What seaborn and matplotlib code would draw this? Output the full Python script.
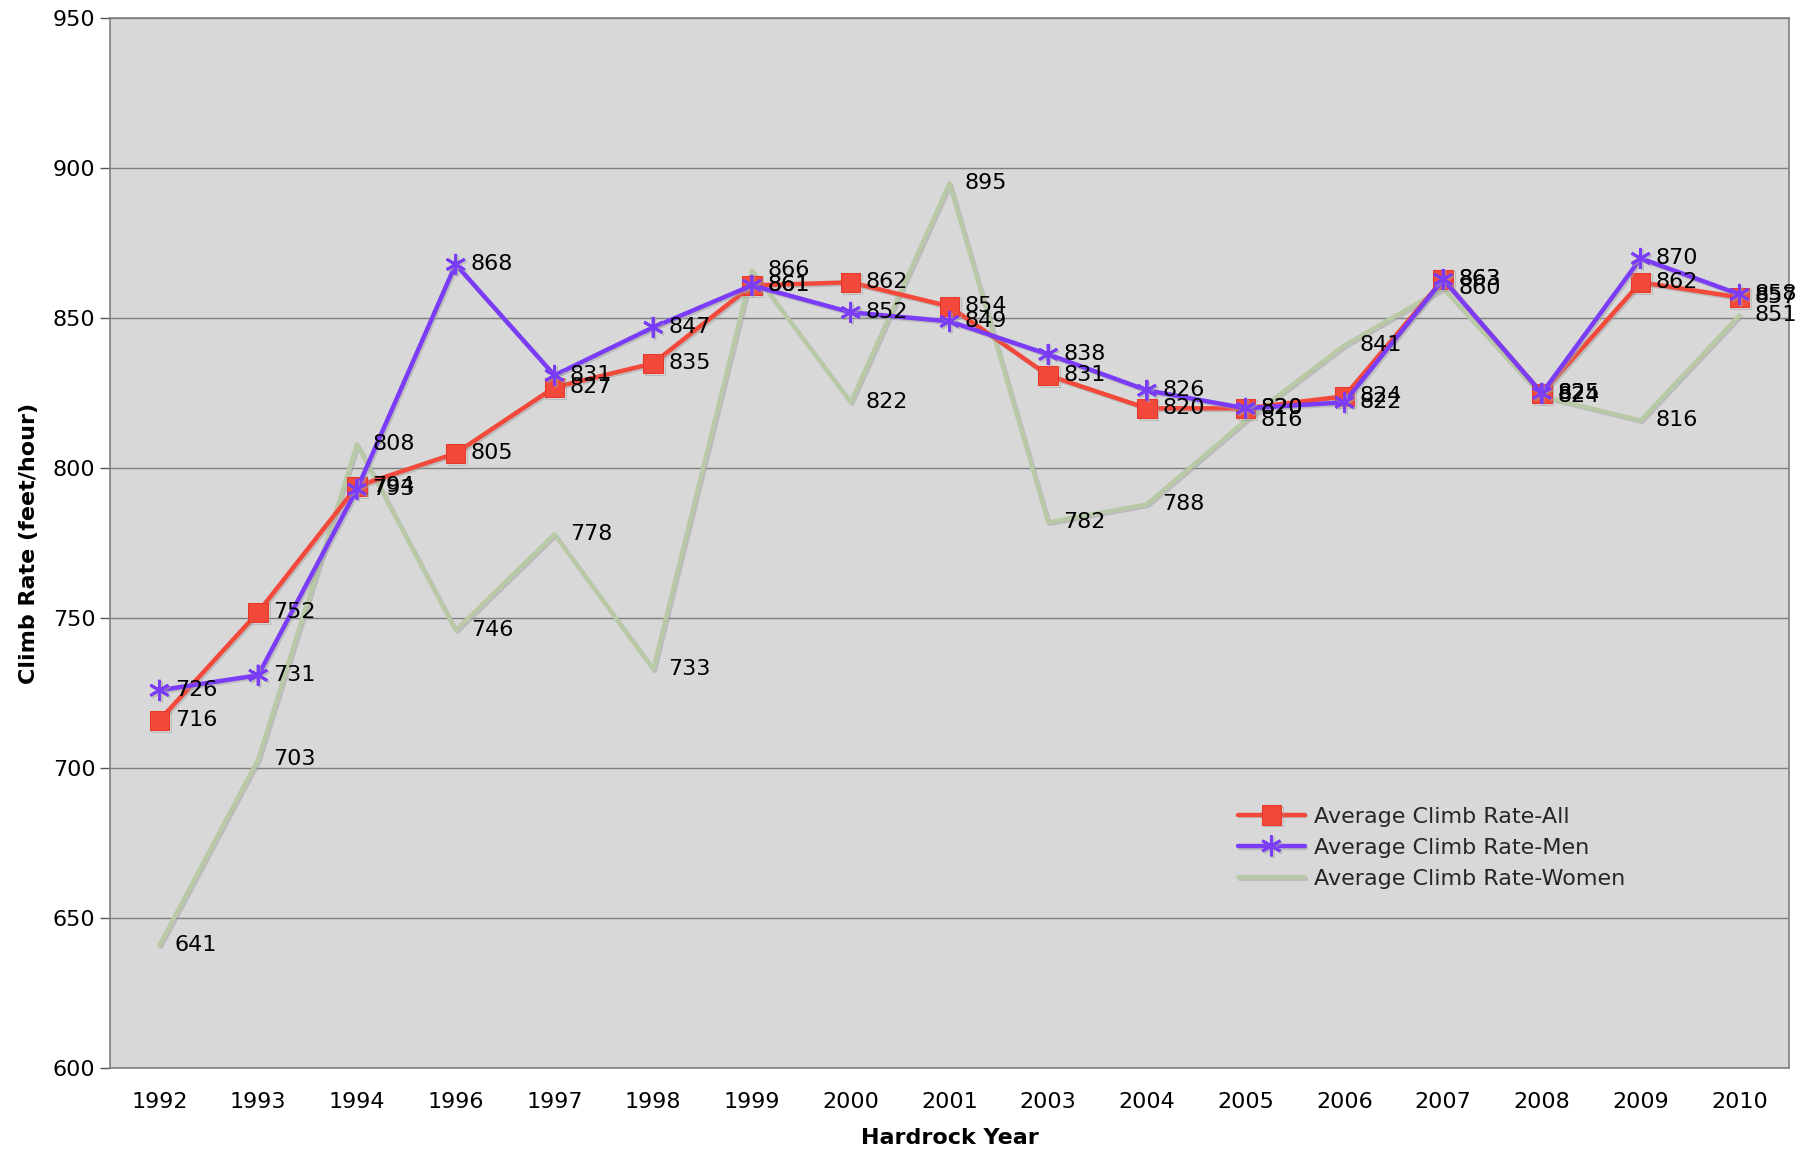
import numpy as np
import pandas as pd
import seaborn as sns
import matplotlib
matplotlib.use('Agg')
import matplotlib.pyplot as plt
import matplotlib.patheffects as pe

# Data
years = ['1992', '1993', '1994', '1996', '1997', '1998', '1999', '2000', '2001',
         '2003', '2004', '2005', '2006', '2007', '2008', '2009', '2010']
rate_all = [716, 752, 794, 805, 827, 835, 861, 862, 854, 831, 820, 820, 824, 863, 825, 862, 857]
rate_men = [726, 731, 793, 868, 831, 847, 861, 852, 849, 838, 826, 820, 822, 863, 825, 870, 858]
rate_women = [641, 703, 808, 746, 778, 733, 866, 822, 895, 782, 788, 816, 841, 860, 824, 816, 851]

pos = np.arange(len(years))
df = pd.DataFrame({'pos': pos, 'All': rate_all, 'Men': rate_men, 'Women': rate_women})

sns.set_style('white')
plt.rcParams['font.family'] = ['DejaVu Sans']

fig = plt.figure(figsize=(18.16, 11.51), dpi=100)
ax = fig.add_axes([0.0606, 0.072, 0.9244, 0.912])
ax.set_facecolor('#d8d8d8')

shadow = [pe.SimpleLineShadow(offset=(1.2, -1.2), shadow_color='#a0a0a0', alpha=0.5), pe.Normal()]

sns.lineplot(data=df, x='pos', y='Women', ax=ax, color='#b8caa5', linewidth=3,
             sort=False, label='Average Climb Rate-Women', zorder=2,
             path_effects=shadow)
sns.lineplot(data=df, x='pos', y='All', ax=ax, color='#f2493b', linewidth=3.2,
             marker='s', markersize=14, markeredgecolor='#e8382c', sort=False,
             label='Average Climb Rate-All', zorder=3, path_effects=shadow)
sns.lineplot(data=df, x='pos', y='Men', ax=ax, color='#7a3cf6', linewidth=3.2,
             marker=(6, 2, 0), markersize=15, markeredgewidth=2, markeredgecolor='#7a3cf6',
             sort=False, label='Average Climb Rate-Men', zorder=4, path_effects=shadow)

# data labels (overlaps kept as in the original)
for series in [rate_women, rate_all, rate_men]:
    for x, v in zip(pos, series):
        ax.annotate(str(v), (x, v), xytext=(11, 0), textcoords='offset points',
                    va='center', ha='left', fontsize=16, color='black', zorder=6)

ax.set_xlim(-0.5, len(years) - 0.5)
ax.set_ylim(600, 950)
ax.set_yticks(range(600, 951, 50))
ax.yaxis.grid(True, color='#7f7f7f', linewidth=1)
ax.set_axisbelow(True)

ax.set_xticks(pos)
ax.set_xticklabels(years)
ax.set_xticks(np.arange(-0.5, len(years), 1), minor=True)
ax.tick_params(axis='x', which='major', length=0, labelsize=16, pad=17, labelcolor='black')
ax.tick_params(axis='x', which='minor', length=7, width=1, color='#555555', direction='out')
ax.tick_params(axis='y', which='major', length=7, width=1, color='#555555', direction='out',
               labelsize=16, left=True, labelcolor='black')

for s in ax.spines.values():
    s.set_color('#808080')
    s.set_linewidth(1.2)

ax.set_xlabel('Hardrock Year', fontsize=16, fontweight='bold', labelpad=12, color='black')
ax.set_ylabel('Climb Rate (feet/hour)', fontsize=16, fontweight='bold', labelpad=10, color='black')

handles, labels = ax.get_legend_handles_labels()
order = [1, 2, 0]
ax.legend([handles[i] for i in order], [labels[i] for i in order],
          loc='center left', bbox_to_anchor=(0.66, 0.21), frameon=False,
          fontsize=16, handlelength=3.0, handletextpad=0.4, labelspacing=0.5)

fig.savefig('out.png', dpi=100, facecolor='white')
